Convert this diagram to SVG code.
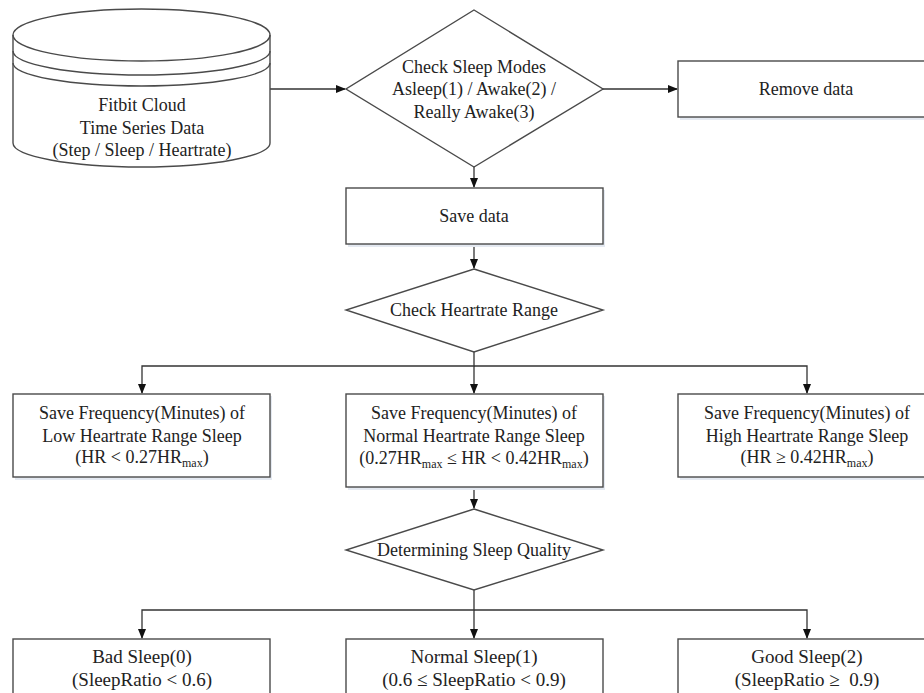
<svg xmlns="http://www.w3.org/2000/svg" width="924" height="693" viewBox="0 0 924 693">
<defs>
<style>
.s{fill:#fff;stroke:#4a4a4a;stroke-width:1.4}
.sh{fill:#e4e9f1;stroke:none}
.t{font-family:"Liberation Serif","Times New Roman",serif;font-size:18px;fill:#222;text-anchor:middle}
.b{font-size:19px}
.sub{font-size:12px}
.c{fill:none;stroke:#333;stroke-width:1.3}
</style>
<marker id="ah" markerWidth="10" markerHeight="8" refX="9" refY="4" orient="auto" markerUnits="userSpaceOnUse">
<path d="M0,0 L10,4 L0,8 Z" fill="#111"/>
</marker>
</defs>
<rect width="924" height="693" fill="#fff"/>

<g id="connectors">
<path class="c" d="M270,89 H345" marker-end="url(#ah)"/>
<path class="c" d="M603,89 H677" marker-end="url(#ah)"/>
<path class="c" d="M474,167 V187" marker-end="url(#ah)"/>
<path class="c" d="M474,244 V268" marker-end="url(#ah)"/>
<path class="c" d="M474,352 V366 H142 V393" marker-end="url(#ah)"/>
<path class="c" d="M474,366 V393" marker-end="url(#ah)"/>
<path class="c" d="M474,366 H807 V393" marker-end="url(#ah)"/>
<path class="c" d="M474,487 V508" marker-end="url(#ah)"/>
<path class="c" d="M474,590 V610 H142 V638" marker-end="url(#ah)"/>
<path class="c" d="M474,610 V638" marker-end="url(#ah)"/>
<path class="c" d="M474,610 H807 V638" marker-end="url(#ah)"/>
</g>

<g id="fitbit-cloud">
<path class="s" d="M13,35 V143 A128.5,24 0 0 0 270,143 V35 A128.5,26 0 0 0 13,35 Z"/>
<path class="s" style="fill:none" d="M13,35 A128.5,26 0 0 0 270,35"/>
<path class="s" style="fill:none" d="M13,51 A128.5,24 0 0 0 270,51"/>
<path class="s" style="fill:none" d="M13,63 A128.5,23 0 0 0 270,63"/>
<text class="t" x="142" y="111">Fitbit Cloud</text>
<text class="t" x="142" y="134">Time Series Data</text>
<text class="t" x="142" y="156">(Step / Sleep / Heartrate)</text>
</g>

<g id="check-sleep-modes">
<polygon class="s" points="474,10 603,89 474,167 346,89"/>
<text class="t" x="474" y="73">Check Sleep Modes</text>
<text class="t" x="474" y="95">Asleep(1) / Awake(2) /</text>
<text class="t" x="474" y="118">Really Awake(3)</text>
</g>

<g id="remove-data">
<rect class="sh" x="680" y="63" width="260" height="57"/>
<rect class="s" x="678" y="61" width="260" height="56"/>
<text class="t" x="806" y="95">Remove data</text>
</g>

<g id="save-data">
<rect class="sh" x="348" y="190" width="257" height="57"/>
<rect class="s" x="346" y="188" width="257" height="56"/>
<text class="t" x="474" y="222">Save data</text>
</g>

<g id="check-heartrate-range">
<polygon class="s" points="474,269 603,310 474,352 346,310"/>
<text class="t" x="474" y="316">Check Heartrate Range</text>
</g>

<g id="low-hr">
<rect class="sh" x="15" y="396" width="257" height="84"/>
<rect class="s" x="13" y="394" width="257" height="83"/>
<text class="t" x="142" y="419">Save Frequency(Minutes) of</text>
<text class="t" x="142" y="442">Low Heartrate Range Sleep</text>
<text class="t" x="142" y="463">(HR &lt; 0.27HR<tspan class="sub" dy="4">max</tspan><tspan dy="-4">)</tspan></text>
</g>

<g id="normal-hr">
<rect class="sh" x="348" y="396" width="257" height="94"/>
<rect class="s" x="346" y="394" width="257" height="93"/>
<text class="t" x="474" y="419">Save Frequency(Minutes) of</text>
<text class="t" x="474" y="442">Normal Heartrate Range Sleep</text>
<text class="t" x="474" y="464">(0.27HR<tspan class="sub" dy="4">max</tspan><tspan dy="-4"> ≤ HR &lt; 0.42HR</tspan><tspan class="sub" dy="4">max</tspan><tspan dy="-4">)</tspan></text>
</g>

<g id="high-hr">
<rect class="sh" x="680" y="396" width="260" height="84"/>
<rect class="s" x="678" y="394" width="260" height="83"/>
<text class="t" x="807" y="419">Save Frequency(Minutes) of</text>
<text class="t" x="807" y="442">High Heartrate Range Sleep</text>
<text class="t" x="807" y="463">(HR ≥ 0.42HR<tspan class="sub" dy="4">max</tspan><tspan dy="-4">)</tspan></text>
</g>

<g id="determining-sleep-quality">
<polygon class="s" points="474,509 603,550 474,590 346,550"/>
<text class="t" x="474" y="556">Determining Sleep Quality</text>
</g>

<g id="bad-sleep">
<rect class="s" x="13" y="639" width="257" height="70"/>
<text class="t b" x="142" y="663">Bad Sleep(0)</text>
<text class="t b" x="142" y="686">(SleepRatio &lt; 0.6)</text>
</g>

<g id="normal-sleep">
<rect class="s" x="346" y="639" width="257" height="70"/>
<text class="t b" x="474" y="663">Normal Sleep(1)</text>
<text class="t b" x="474" y="686">(0.6 ≤ SleepRatio &lt; 0.9)</text>
</g>

<g id="good-sleep">
<rect class="s" x="678" y="639" width="260" height="70"/>
<text class="t b" x="807" y="663">Good Sleep(2)</text>
<text class="t b" x="807" y="686" xml:space="preserve">(SleepRatio ≥  0.9)</text>
</g>
</svg>
